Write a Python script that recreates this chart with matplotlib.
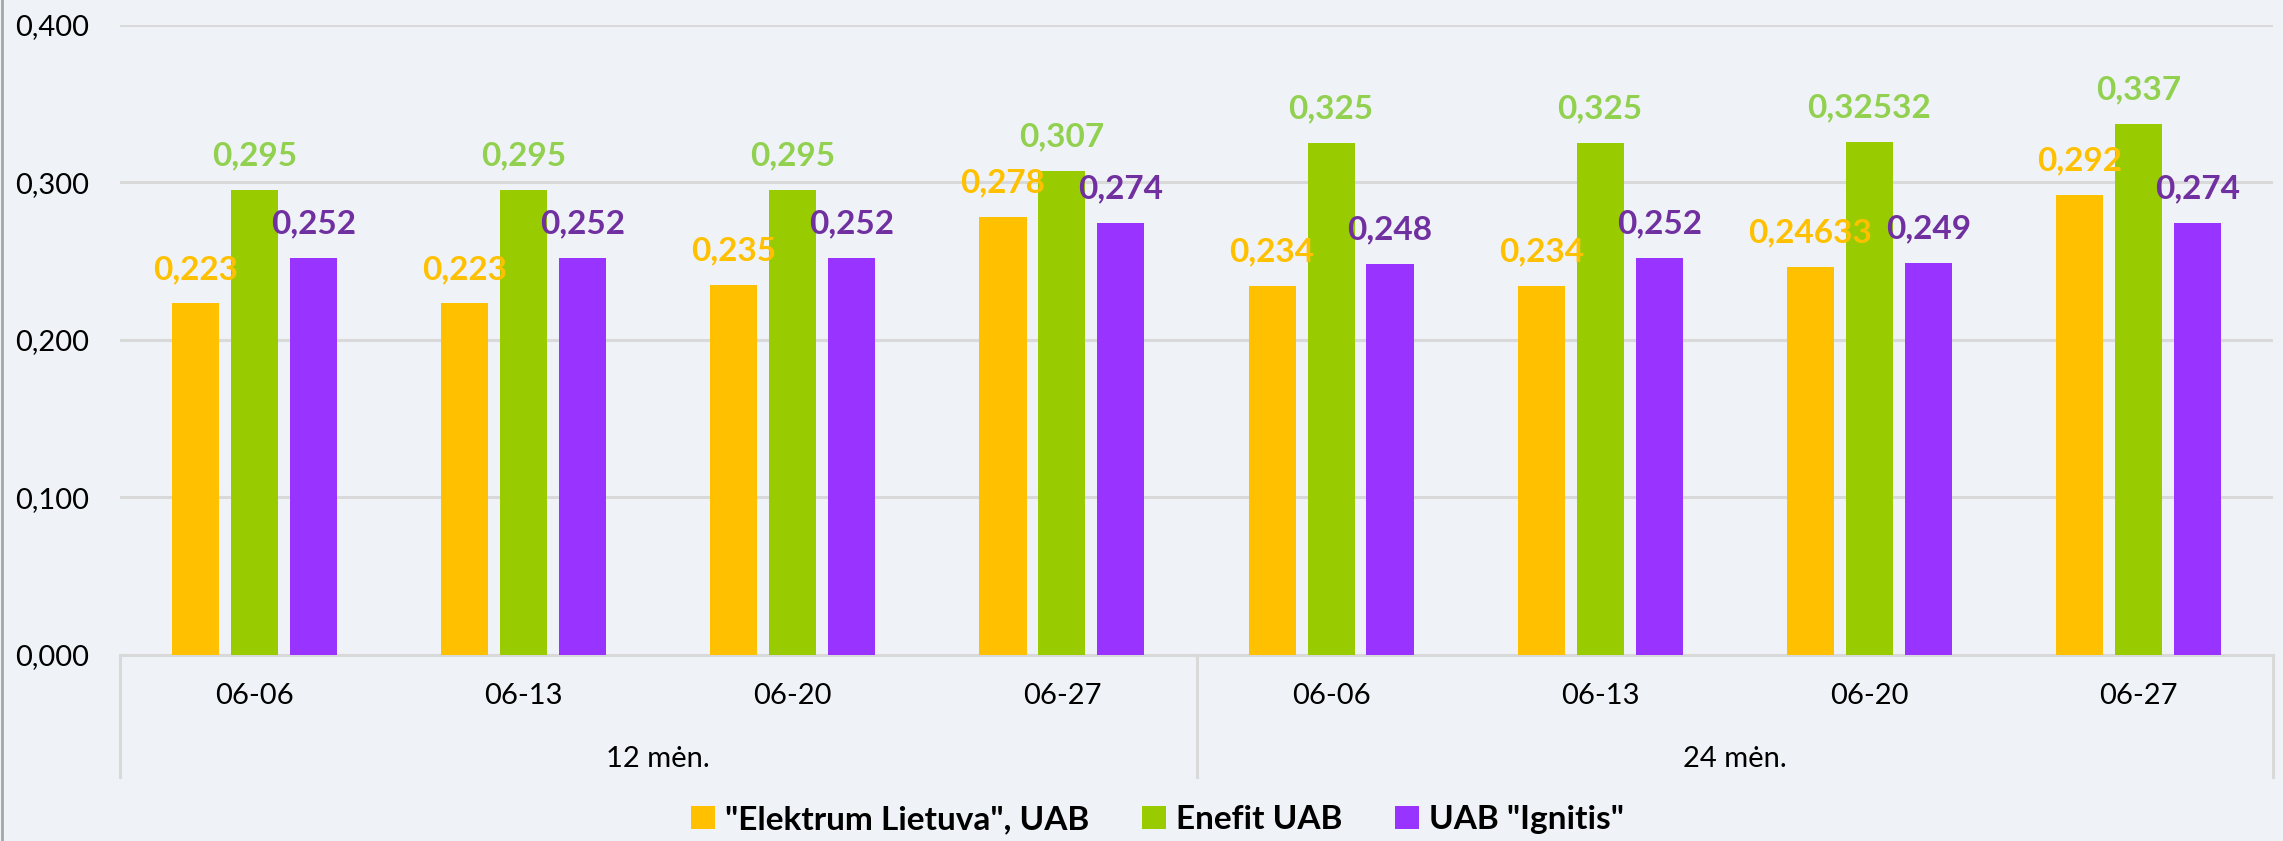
import numpy as np
import matplotlib
matplotlib.use('Agg')
from matplotlib import pyplot as plt
from matplotlib import transforms

plt.rcParams['font.family'] = ['Lato', 'DejaVu Sans']

dates = ['06-06', '06-13', '06-20', '06-27', '06-06', '06-13', '06-20', '06-27']
groups = ['12 mėn.', '24 mėn.']
series = ['"Elektrum Lietuva", UAB', 'Enefit UAB', 'UAB "Ignitis"']
elektrum = [0.223, 0.223, 0.235, 0.278, 0.234, 0.234, 0.24633, 0.292]
enefit = [0.295, 0.295, 0.295, 0.307, 0.325, 0.325, 0.32532, 0.337]
ignitis = [0.252, 0.252, 0.252, 0.274, 0.248, 0.252, 0.249, 0.274]
labels_elektrum = ['0,223', '0,223', '0,235', '0,278', '0,234', '0,234', '0,24633', '0,292']
labels_enefit = ['0,295', '0,295', '0,295', '0,307', '0,325', '0,325', '0,32532', '0,337']
labels_ignitis = ['0,252', '0,252', '0,252', '0,274', '0,248', '0,252', '0,249', '0,274']

bar_colors = ['#FFC000', '#99CC00', '#9933FF']
text_colors = ['#FFC000', '#92D050', '#7030A0']
bg = '#EFF3F7'
grid = '#D9D9D9'

fig = plt.figure(figsize=(22.83, 8.41), dpi=100, facecolor=bg)
ax = fig.add_axes([120 / 2283, 186 / 841, 2153 / 2283, 630.5 / 841])
ax.set_facecolor(bg)

x = np.arange(len(dates))
step = 0.219
width = 0.175
values = [elektrum, enefit, ignitis]
labels = [labels_elektrum, labels_enefit, labels_ignitis]
for i, (vals, labs) in enumerate(zip(values, labels)):
    pos = x + (i - 1) * step
    ax.bar(pos, vals, width, color=bar_colors[i], label=series[i], zorder=3)
    for px, v, lab in zip(pos, vals, labs):
        ax.annotate(lab, (px, v), xytext=(0, 24.5), textcoords='offset points',
                    ha='center', va='center', fontsize=24, fontweight='bold',
                    color=text_colors[i], zorder=4)

ax.set_xlim(-0.5, len(dates) - 0.5)
ax.set_ylim(0, 0.4)
ax.set_yticks([0, 0.1, 0.2, 0.3, 0.4])
ax.set_yticklabels(['0,000', '0,100', '0,200', '0,300', '0,400'])
ax.tick_params(axis='y', length=0, pad=22, labelsize=21)
ax.set_xticks([])
ax.yaxis.grid(True, color=grid, linewidth=2.2, zorder=0)
for s in ['top', 'right', 'left']:
    ax.spines[s].set_visible(False)
ax.spines['bottom'].set_color(grid)
ax.spines['bottom'].set_linewidth(2.2)

# multi-level category axis
trans = transforms.blended_transform_factory(ax.transData, ax.transAxes)
for xd in [-0.5, 3.5, 7.5]:
    ax.plot([xd, xd], [0, -0.194], transform=trans, color=grid, lw=2.2, clip_on=False)
for xi, d in zip(x, dates):
    ax.text(xi, -0.065, d, transform=trans, ha='center', va='center', fontsize=21)
ax.text(1.5, -0.165, groups[0], transform=trans, ha='center', va='center', fontsize=21)
ax.text(5.5, -0.165, groups[1], transform=trans, ha='center', va='center', fontsize=21)

# left border of chart
fig.add_artist(plt.Line2D([2 / 2283, 2 / 2283], [0, 1], transform=fig.transFigure,
                          color='#A6A6A6', lw=2))

leg = fig.legend(loc='center', bbox_to_anchor=(0.507, 0.025), ncol=3, frameon=False,
                 prop={'size': 24, 'weight': 'bold'}, handlelength=0.7, handleheight=0.7,
                 handletextpad=0.3, columnspacing=1.6)

fig.savefig('out.png', dpi=100, facecolor=bg)
